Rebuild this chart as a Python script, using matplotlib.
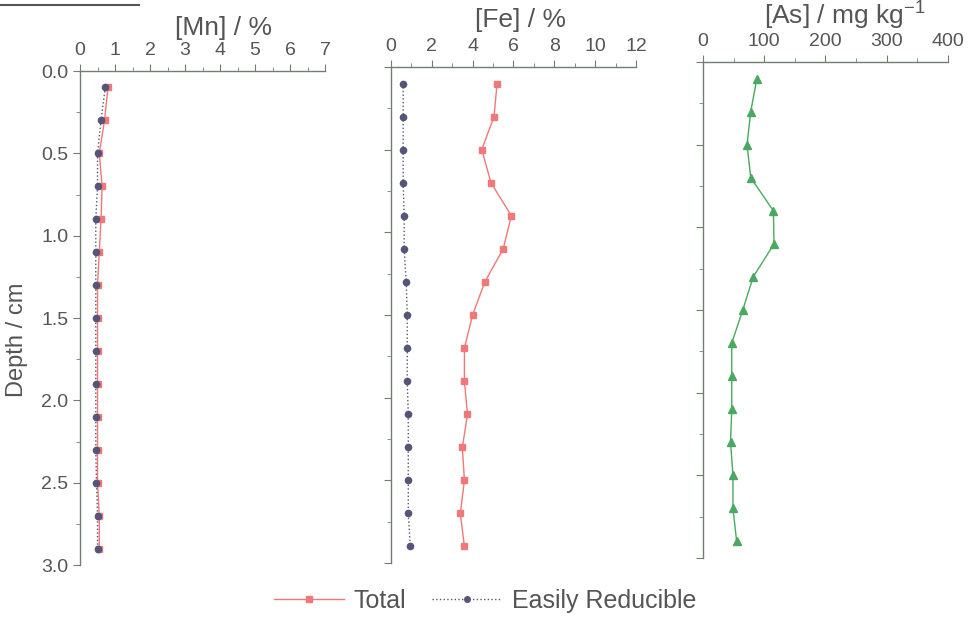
import matplotlib
matplotlib.use("Agg")
import matplotlib.pyplot as plt
from matplotlib.ticker import MultipleLocator
from matplotlib.lines import Line2D

plt.rcParams['font.family'] = ['Liberation Sans', 'DejaVu Sans']
plt.rcParams['mathtext.fontset'] = 'custom'
plt.rcParams['mathtext.rm'] = 'Liberation Sans'
plt.rcParams['mathtext.it'] = 'Liberation Sans'

# depth of each slice (cm)
depth = [0.1, 0.3, 0.5, 0.7, 0.9, 1.1, 1.3, 1.5, 1.7, 1.9, 2.1, 2.3, 2.5, 2.7, 2.9]

mn_total = [0.8, 0.7, 0.55, 0.63, 0.6, 0.55, 0.5, 0.5, 0.5, 0.5, 0.5, 0.5, 0.5, 0.55, 0.55]
mn_easy = [0.72, 0.6, 0.5, 0.5, 0.45, 0.45, 0.45, 0.45, 0.45, 0.45, 0.45, 0.45, 0.47, 0.5, 0.5]

fe_total = [5.2, 5.05, 4.45, 4.9, 5.9, 5.5, 4.6, 4.0, 3.6, 3.6, 3.75, 3.5, 3.6, 3.4, 3.6]
fe_easy = [0.6, 0.6, 0.6, 0.6, 0.65, 0.65, 0.75, 0.8, 0.8, 0.8, 0.85, 0.85, 0.85, 0.85, 0.95]

as_total = [88, 78, 72, 78, 115, 116, 82, 65, 47, 47, 47, 45, 49, 49, 55]

red = '#f07878'
blue = '#55557a'
green = '#4aa860'
spine_col = '#6f7f6f'
txt = '#555555'

fig = plt.figure(figsize=(9.7, 6.23), dpi=100)

boxes = [[0.0825, 0.093, 0.2526, 0.793],
         [0.403, 0.0963, 0.2526, 0.7962],
         [0.7247, 0.1043, 0.2526, 0.7962]]
xlims = [7, 12, 400]
majors = [1, 2, 100]
titles = ['[Mn] / %', '[Fe] / %', r'[As] / mg kg$^{\mathrm{-1}}$']
title_pos = [(0.584, 1.073), (0.527, 1.081), (0.58, 1.075)]

axes = []
for i in range(3):
    ax = fig.add_axes(boxes[i])
    ax.set_xlim(0, xlims[i])
    ax.set_ylim(3.0, 0.0)
    ax.xaxis.tick_top()
    ax.xaxis.set_label_position('top')
    ax.xaxis.set_major_locator(MultipleLocator(majors[i]))
    ax.xaxis.set_minor_locator(MultipleLocator(majors[i] / 2))
    ax.yaxis.set_major_locator(MultipleLocator(0.5))
    ax.yaxis.set_minor_locator(MultipleLocator(0.25))
    for s in ['right', 'bottom']:
        ax.spines[s].set_visible(False)
    for s in ['top', 'left']:
        ax.spines[s].set_color(spine_col)
        ax.spines[s].set_linewidth(1.0)
    ax.tick_params(which='major', direction='out', length=5, color=spine_col,
                   labelsize=14, labelcolor=txt)
    ax.tick_params(which='minor', direction='out', length=3, color=spine_col)
    ax.set_xlabel(titles[i], fontsize=19, color=txt)
    ax.xaxis.set_label_coords(*title_pos[i])
    if i > 0:
        ax.tick_params(axis='y', labelleft=False)
    ax.patch.set_alpha(0)
    axes.append(ax)

axes[0].yaxis.set_major_formatter(matplotlib.ticker.FormatStrFormatter('%.1f'))
axes[0].set_ylabel('Depth / cm', fontsize=17, color=txt, va='center')
axes[0].yaxis.set_label_coords(-0.258, 0.455)

# Mn
axes[0].plot(mn_total, depth, '-s', color=red, lw=1, ms=5, mec=red)
axes[0].plot(mn_easy, depth, ':o', color=blue, lw=1, ms=4.5)
# Fe
axes[1].plot(fe_total, depth, '-s', color=red, lw=1, ms=5)
axes[1].plot(fe_easy, depth, ':o', color=blue, lw=1, ms=4.5)
# As
axes[2].plot(as_total, depth, '-^', color=green, lw=1, ms=6)

handles = [Line2D([], [], color=red, ls='-', marker='s', ms=5, lw=1),
           Line2D([], [], color=blue, ls=':', marker='o', ms=4, lw=1)]
fig.legend(handles, ['Total', 'Easily Reducible'], loc='center',
           bbox_to_anchor=(0.5, 0.035), ncol=2, frameon=False,
           fontsize=18, labelcolor=txt, handlelength=2.8, columnspacing=1.0,
           handletextpad=0.4)

# cut-off header line at top left of the scan
fig.add_artist(Line2D([0.0, 0.143], [0.992, 0.992], color='#555555', lw=1.5))

fig.savefig('out.png', dpi=100)
